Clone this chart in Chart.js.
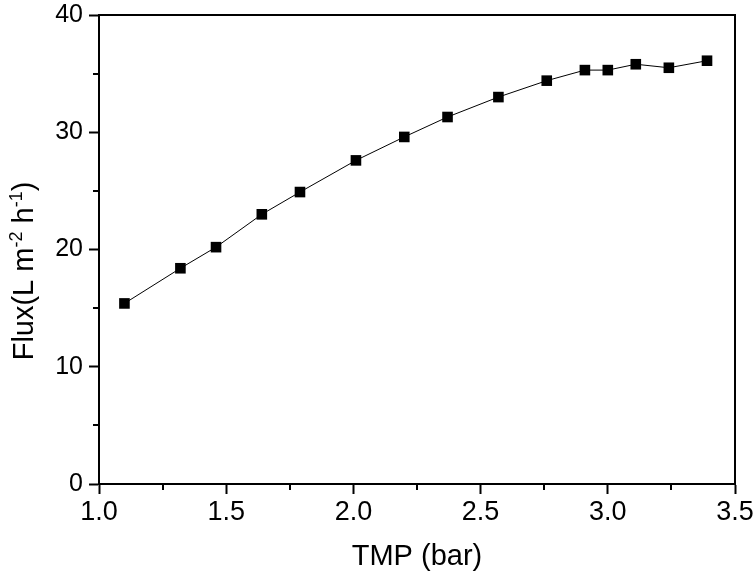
<!DOCTYPE html>
<html>
<head>
<meta charset="utf-8">
<script src="https://cdn.jsdelivr.net/npm/chart.js@4"></script>
<style>
  html, body { margin: 0; padding: 0; background: #fff; }
  #wrap { width: 756px; height: 578px; }
</style>
</head>
<body>
<div id="wrap"><canvas id="chart" width="756" height="578"></canvas></div>
<script>
// values
const tmp = [1.10, 1.32, 1.46, 1.64, 1.79, 2.01, 2.20, 2.37, 2.57, 2.76, 2.91, 3.00, 3.11, 3.24, 3.39];
const flux = [15.4, 18.4, 20.2, 23.0, 24.9, 27.6, 29.6, 31.3, 33.0, 34.4, 35.3, 35.3, 35.8, 35.5, 36.1];
const xMinorTicks = [1.25, 1.75, 2.25, 2.75, 3.25];
const yMinorTicks = [5, 15, 25, 35];

const FONT = "'Liberation Sans', Arial, sans-serif";

// frame, minor ticks and axis titles
const extras = {
  id: "extras",
  afterDraw(chart) {
    const ctx = chart.ctx;
    const a = chart.chartArea;
    const xs = chart.scales.x;
    const ys = chart.scales.y;
    ctx.save();
    ctx.strokeStyle = "#000";
    ctx.lineWidth = 2;
    ctx.beginPath();
    ctx.moveTo(a.left, a.top);
    ctx.lineTo(a.right, a.top);
    ctx.lineTo(a.right, a.bottom);
    xMinorTicks.forEach((v) => {
      const px = Math.round(xs.getPixelForValue(v));
      ctx.moveTo(px, a.bottom);
      ctx.lineTo(px, a.bottom + 6);
    });
    yMinorTicks.forEach((v) => {
      const py = Math.round(ys.getPixelForValue(v));
      ctx.moveTo(a.left, py);
      ctx.lineTo(a.left - 6, py);
    });
    ctx.stroke();

    ctx.fillStyle = "#000";
    ctx.textBaseline = "alphabetic";
    ctx.font = "29px " + FONT;
    ctx.textAlign = "center";
    ctx.fillText("TMP (bar)", (a.left + a.right) / 2, 565);

    // y title with superscripts
    const parts = [
      ["Flux(L m", false],
      ["-2", true],
      [" h", false],
      ["-1", true],
      [")", false],
    ];
    const big = "29px " + FONT;
    const small = "18px " + FONT;
    let total = 0;
    parts.forEach(([t, sup]) => {
      ctx.font = sup ? small : big;
      total += ctx.measureText(t).width;
    });
    ctx.translate(33, 271);
    ctx.rotate(-Math.PI / 2);
    ctx.textAlign = "left";
    let x = -total / 2;
    parts.forEach(([t, sup]) => {
      ctx.font = sup ? small : big;
      ctx.fillText(t, x, sup ? -11 : 0);
      x += ctx.measureText(t).width;
    });
    ctx.restore();
  },
};

new Chart(document.getElementById("chart"), {
  type: "scatter",
  data: {
    datasets: [
      {
        data: tmp.map((t, i) => ({ x: t, y: flux[i] })),
        showLine: true,
        borderColor: "#000",
        borderWidth: 1,
        backgroundColor: "#000",
        pointStyle: "rect",
        pointRadius: 7.5,
        pointHoverRadius: 7.5,
        pointBorderWidth: 0,
        tension: 0,
      },
    ],
  },
  options: {
    responsive: false,
    animation: false,
    devicePixelRatio: 1,
    layout: { autoPadding: false, padding: { top: 15, right: 21, left: 0, bottom: 0 } },
    plugins: { legend: { display: false }, tooltip: { enabled: false } },
    scales: {
      x: {
        type: "linear",
        min: 1,
        max: 3.5,
        afterFit(s) {
          s.height = 94;
          s.paddingLeft = 0;
          s.paddingRight = 0;
        },
        border: { display: true, color: "#000", width: 2 },
        grid: { drawOnChartArea: false, tickLength: 10, tickWidth: 2, tickColor: "#000" },
        ticks: {
          stepSize: 0.5,
          color: "#000",
          padding: 2,
          font: { family: FONT, size: 27 },
          callback: (v) => v.toFixed(1),
        },
      },
      y: {
        min: 0,
        max: 40,
        afterFit(s) {
          s.width = 99;
          s.paddingTop = 0;
          s.paddingBottom = 0;
        },
        border: { display: true, color: "#000", width: 2 },
        grid: { drawOnChartArea: false, tickLength: 10, tickWidth: 2, tickColor: "#000" },
        ticks: {
          stepSize: 10,
          color: "#000",
          padding: 6,
          font: { family: FONT, size: 25 },
        },
      },
    },
  },
  plugins: [extras],
});
</script>
</body>
</html>
